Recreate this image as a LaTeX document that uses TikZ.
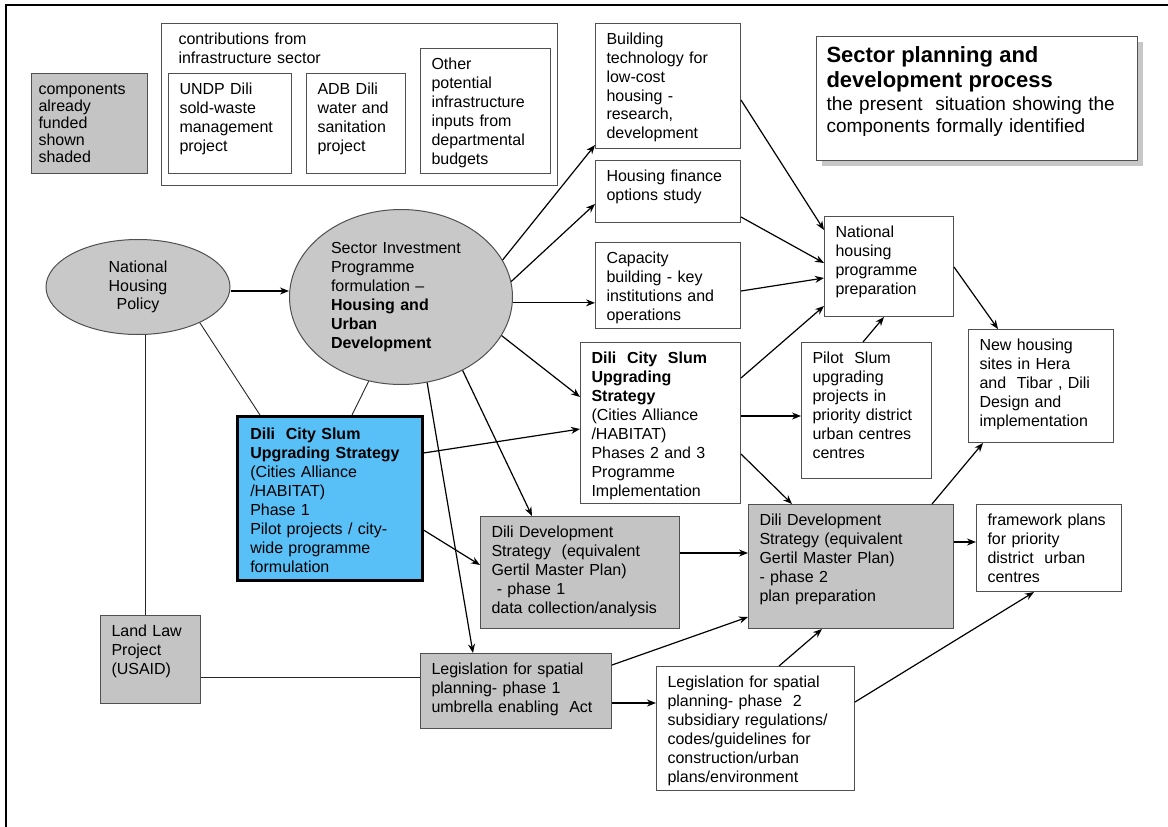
\documentclass[tikz,border=0pt]{standalone}
\usepackage{fontspec}
\setmainfont{Liberation Sans}
\usepackage{xcolor}
\usetikzlibrary{arrows.meta, shapes.geometric, shadows}

\definecolor{boxline}{RGB}{80,80,80}
\definecolor{fundgray}{RGB}{196,196,196}
\definecolor{ellgray}{RGB}{200,200,200}
\definecolor{slumblue}{RGB}{88,192,246}

\tikzset{
  box/.style={draw=boxline, line width=1pt, anchor=north west, align=left,
    inner xsep=11pt, inner ysep=8pt, text height=12.5pt,
    font=\fontsize{16}{19}\selectfont},
  funded/.style={box, fill=fundgray},
  oval/.style={ellipse, draw=boxline, line width=1pt, fill=ellgray,
    inner sep=0pt, font=\fontsize{16}{19}\selectfont},
  arr/.style={-{Stealth[length=9pt,width=7pt]}, line width=1.2pt},
  link/.style={line width=0.9pt, draw=black!85}
}

\begin{document}
\begin{tikzpicture}[x=1pt,y=-1pt]
\useasboundingbox (0,0) rectangle (1168,827);
\draw[line width=2pt] (6,827) -- (6,5) -- (1168,5);

% legend and infrastructure inputs
\node[funded, inner xsep=7pt, text width=102pt, text depth=71.5pt, font=\fontsize{16}{17}\selectfont] (legend) at (31,73) {components\\already\\funded\\shown\\shaded};
\node[box, inner xsep=17pt, text width=362pt, text depth=133.5pt] (contrib) at (161,23) {contributions from\\infrastructure sector};
\node[box, text width=101pt, text depth=71.5pt] (undp) at (168,73) {UNDP Dili\\sold-waste\\management\\project};
\node[box, text width=77pt, text depth=71.5pt] (adb) at (306,73) {ADB Dili\\water and\\sanitation\\project};
\node[box, text width=108pt, text depth=96.5pt] (other) at (420,48) {Other\\potential\\infrastructure\\inputs from\\departmental\\budgets};

% title
\node[box, inner xsep=10pt, text height=18pt, text width=301pt, text depth=90pt, fill=white,
  drop shadow={shadow xshift=5pt, shadow yshift=-5pt, fill=black!40, opacity=0.55},
  font=\fontsize{19}{22}\selectfont] (title) at (816,36)
  {{\fontsize{22}{22}\selectfont\bfseries Sector planning and}\\[3pt]{\fontsize{22}{22}\selectfont\bfseries development process}\\[1pt]the present\ \ situation showing the\\components formally identified};

% ellipses
\node[oval, minimum width=184pt, minimum height=95pt, align=center, font=\fontsize{16}{18.5}\selectfont] (policy) at (138,287) {National\\Housing\\Policy};
\node[oval, minimum width=223pt, minimum height=175pt, align=left, text width=140pt] (sip) at (401,297) {Sector Investment\\Programme\\formulation --\\\textbf{Housing and}\\\textbf{Urban}\\\textbf{Development}};

% housing column
\node[box, text width=123pt, text depth=96.5pt] (bt) at (595,23) {Building\\technology for\\low-cost\\housing -\\research,\\development};
\node[box, text width=123pt, text depth=33.5pt] (hf) at (595,160) {Housing finance\\options study};
\node[box, text width=123pt, text depth=57.5pt] (cap) at (595,242) {Capacity\\building - key\\institutions and\\operations};
\node[box, text width=107pt, text depth=71.5pt] (nhp) at (824,216) {National\\housing\\programme\\preparation};

% slum upgrading
\node[box, draw=black, line width=2.5pt, fill=slumblue, inner xsep=13pt, text height=15pt, text width=159pt, text depth=133pt] (slum1) at (236,415) {\textbf{Dili\ \ City Slum}\\\textbf{Upgrading Strategy}\\(Cities Alliance\\/HABITAT)\\Phase 1\\Pilot projects / city-\\wide programme\\formulation};
\node[box, text width=138pt, text depth=132.5pt] (slum23) at (580,342) {\textbf{Dili\ \ City\ \ Slum}\\\textbf{Upgrading}\\\textbf{Strategy}\\(Cities Alliance\\/HABITAT)\\Phases 2 and 3\\Programme\\Implementation};
\node[box, text width=108pt, text depth=107.5pt] (pilot) at (801,342) {Pilot\ \ Slum\\upgrading\\projects in\\priority district\\urban centres\\centres};
\node[box, text width=123pt, text depth=84.5pt] (newh) at (968,329) {New housing\\sites in Hera\\and\ \ Tibar , Dili\\Design and\\implementation};

% development strategy
\node[funded, text width=177pt, text depth=83.5pt] (ddp1) at (480,516) {Dili Development\\Strategy\ \ (equivalent\\Gertil Master Plan)\\\ - phase 1\\data collection/analysis};
\node[funded, text width=183pt, text depth=95.5pt] (ddp2) at (748,504) {Dili Development\\Strategy (equivalent\\Gertil Master Plan)\\- phase 2\\plan preparation};
\node[box, text width=123pt, text depth=58.5pt] (frame) at (976,504) {framework plans\\for priority\\district\ \ urban\\centres};

% legislation
\node[funded, text width=78pt, text depth=59.5pt] (land) at (100,615) {Land Law\\Project\\(USAID)};
\node[funded, text width=169pt, text depth=46.5pt] (leg1) at (420,653) {Legislation for spatial\\planning- phase 1\\umbrella enabling\ \ Act};
\node[box, text width=176pt, text depth=95.5pt] (leg2) at (656,666) {Legislation for spatial\\planning- phase\ \ 2\\subsidiary regulations/\\codes/guidelines for\\construction/urban\\plans/environment};

% plain links
\draw[link] (policy.-30) -- ([xshift=24pt]slum1.north west);
\draw[link] (sip.-111) -- ([xshift=116pt]slum1.north west);
\draw[link] ([xshift=-5pt]land.north) -- ([xshift=-5pt]land.north |- policy.south);
\draw[link] ([yshift=-18pt]land.east) coordinate (lawout) -- (lawout -| leg1.west);

% arrows
\draw[arr] ([yshift=-4pt]policy.east) -- ([yshift=6pt]sip.west);
\draw[arr] (sip.20) -- ([yshift=4pt]bt.south west);
\draw[arr] (sip.8) -- ([yshift=19pt]hf.south west);
\draw[arr] (sip.-3) -- (sip.-3 -| cap.west);
\draw[arr] (sip.-21) -- ([yshift=-55pt]slum23.north west);
\draw[arr] (sip.-50) -- ([xshift=52pt]ddp1.north west);
\draw[arr] (sip.-73) -- ([xshift=53pt]leg1.north west);

\draw[arr] ([yshift=-38pt]slum1.north east) -- ([yshift=-87pt]slum23.north west);
\draw[arr] ([yshift=-115pt]slum1.north east) -- ([yshift=-49pt]ddp1.north west);

\draw[arr] ([yshift=-77pt]bt.north east) -- ([yshift=-14pt]nhp.north west);
\draw[arr] ([yshift=6pt]hf.south east) -- ([yshift=-47pt]nhp.north west);
\draw[arr] ([yshift=-49pt]cap.north east) -- ([yshift=-62pt]nhp.north west);
\draw[arr] ([yshift=-36pt]slum23.north east) -- ([yshift=11pt]nhp.south west);
\draw[arr] ([xshift=62pt]pilot.north west) -- ([xshift=60pt]nhp.south west);
\draw[arr] ([yshift=-51pt]nhp.north east) -- ([xshift=30pt]newh.north west);

\draw[arr] ([yshift=-74pt]slum23.north east) coordinate (s23out) -- (s23out -| pilot.west);
\draw[arr] ([yshift=-112pt]slum23.north east) -- ([xshift=44pt]ddp2.north west);
\draw[arr] ([yshift=-37pt]ddp1.north east) coordinate (d1out) -- (d1out -| ddp2.west);
\draw[arr] ([yshift=-38pt]ddp2.north east) coordinate (d2out) -- (d2out -| frame.west);
\draw[arr] ([xshift=-22pt]ddp2.north east) -- ([xshift=15pt]newh.south west);

\draw[arr] ([yshift=-12pt]leg1.north east) -- ([yshift=12pt]ddp2.south west);
\draw[arr] ([yshift=-50pt]leg1.north east) coordinate (l1out) -- (l1out -| leg2.west);
\draw[arr] ([xshift=123pt]leg2.north west) -- ([xshift=74pt]ddp2.south west);
\draw[arr] ([yshift=-36pt]leg2.north east) -- ([xshift=58pt]frame.south west);
\end{tikzpicture}
\end{document}
